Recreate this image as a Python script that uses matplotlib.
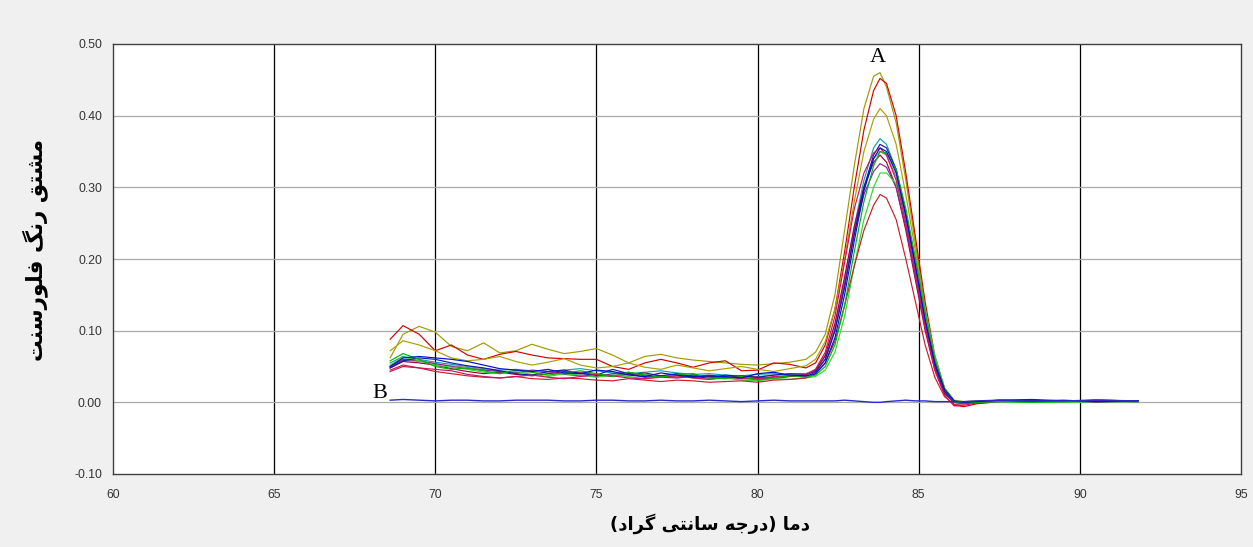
import matplotlib
matplotlib.use("Agg")
import matplotlib.pyplot as plt

# ---------------- data ----------------
temperature = [68.6, 69.0, 69.5, 70.0, 70.5, 71.0, 71.5, 72.0, 72.5, 73.0, 73.5, 74.0, 74.5,
               75.0, 75.5, 76.0, 76.5, 77.0, 77.5, 78.0, 78.5, 79.0, 79.5, 80.0, 80.5, 81.0, 81.5,
               81.8, 82.1, 82.4, 82.7, 83.0, 83.3, 83.6, 83.8, 84.0, 84.3, 84.6, 84.9, 85.2, 85.5,
               85.8, 86.1, 86.4, 86.8, 87.5, 88.5, 89.5, 90.5, 91.8]

olive_high = [0.062, 0.095, 0.106, 0.098, 0.078, 0.072, 0.083, 0.069, 0.072, 0.081, 0.074, 0.068, 0.071,
              0.075, 0.066, 0.055, 0.064, 0.067, 0.062, 0.059, 0.057, 0.055, 0.053, 0.052, 0.054, 0.056, 0.060,
              0.070, 0.095, 0.150, 0.240, 0.330, 0.410, 0.455, 0.460, 0.440, 0.390, 0.310, 0.220, 0.130, 0.060,
              0.020, 0.003, 0.001, 0.002, 0.002, 0.003, 0.001, 0.002, 0.002]
red_high = [0.088, 0.107, 0.095, 0.072, 0.080, 0.066, 0.060, 0.067, 0.071, 0.066, 0.062, 0.061, 0.060,
            0.060, 0.050, 0.046, 0.055, 0.060, 0.055, 0.049, 0.055, 0.058, 0.044, 0.045, 0.055, 0.053, 0.048,
            0.055, 0.080, 0.130, 0.210, 0.300, 0.380, 0.435, 0.452, 0.445, 0.400, 0.320, 0.230, 0.140, 0.065,
            0.020, -0.004, -0.006, -0.002, 0.001, 0.002, 0.001, 0.003, 0.002]
olive_mid = [0.072, 0.086, 0.080, 0.072, 0.062, 0.058, 0.060, 0.064, 0.057, 0.052, 0.056, 0.061, 0.052,
             0.048, 0.050, 0.055, 0.049, 0.046, 0.052, 0.048, 0.044, 0.047, 0.050, 0.046, 0.043, 0.047, 0.051,
             0.060, 0.085, 0.130, 0.200, 0.280, 0.350, 0.395, 0.410, 0.400, 0.360, 0.290, 0.210, 0.125, 0.060,
             0.020, 0.002, 0.000, 0.001, 0.002, 0.001, 0.002, 0.001, 0.002]
teal = [0.055, 0.064, 0.060, 0.056, 0.053, 0.050, 0.047, 0.045, 0.046, 0.044, 0.043, 0.045, 0.047,
        0.044, 0.041, 0.040, 0.042, 0.044, 0.041, 0.039, 0.040, 0.038, 0.037, 0.039, 0.040, 0.038, 0.040,
        0.045, 0.065, 0.105, 0.170, 0.245, 0.310, 0.355, 0.368, 0.360, 0.325, 0.260, 0.185, 0.110, 0.050,
        0.015, 0.001, 0.000, 0.001, 0.002, 0.002, 0.001, 0.002, 0.001]
blue = [0.050, 0.062, 0.064, 0.062, 0.060, 0.057, 0.052, 0.047, 0.045, 0.043, 0.046, 0.041, 0.040,
        0.045, 0.043, 0.038, 0.036, 0.041, 0.038, 0.035, 0.037, 0.036, 0.034, 0.040, 0.042, 0.038, 0.037,
        0.040, 0.055, 0.090, 0.150, 0.225, 0.295, 0.340, 0.355, 0.350, 0.320, 0.260, 0.190, 0.115, 0.055,
        0.018, 0.002, 0.000, 0.001, 0.003, 0.002, 0.003, 0.001, 0.002]
green = [0.058, 0.068, 0.060, 0.050, 0.046, 0.048, 0.044, 0.040, 0.045, 0.042, 0.038, 0.041, 0.044,
         0.040, 0.036, 0.042, 0.038, 0.035, 0.039, 0.040, 0.034, 0.033, 0.036, 0.031, 0.034, 0.037, 0.035,
         0.038, 0.050, 0.080, 0.135, 0.210, 0.280, 0.330, 0.350, 0.348, 0.325, 0.270, 0.200, 0.125, 0.060,
         0.018, 0.001, -0.001, 0.000, 0.001, 0.000, 0.001, 0.001, 0.001]
maroon = [0.048, 0.057, 0.055, 0.052, 0.047, 0.043, 0.040, 0.042, 0.039, 0.037, 0.040, 0.043, 0.041,
          0.038, 0.036, 0.039, 0.041, 0.037, 0.035, 0.038, 0.036, 0.034, 0.037, 0.035, 0.033, 0.036, 0.038,
          0.045, 0.065, 0.110, 0.175, 0.245, 0.300, 0.335, 0.345, 0.335, 0.300, 0.240, 0.170, 0.100, 0.045,
          0.012, 0.000, -0.002, 0.000, 0.002, 0.003, 0.002, 0.002, 0.001]
purple = [0.050, 0.060, 0.058, 0.054, 0.050, 0.047, 0.045, 0.043, 0.041, 0.045, 0.043, 0.039, 0.037,
          0.036, 0.040, 0.042, 0.037, 0.035, 0.034, 0.036, 0.038, 0.035, 0.033, 0.032, 0.035, 0.037, 0.036,
          0.042, 0.060, 0.100, 0.165, 0.235, 0.290, 0.322, 0.333, 0.328, 0.300, 0.245, 0.175, 0.105, 0.050,
          0.014, 0.000, -0.001, 0.001, 0.001, 0.002, 0.002, 0.000, 0.002]
green_light = [0.052, 0.063, 0.058, 0.052, 0.049, 0.046, 0.042, 0.040, 0.043, 0.039, 0.036, 0.040, 0.038,
               0.035, 0.038, 0.036, 0.033, 0.036, 0.038, 0.034, 0.032, 0.034, 0.031, 0.030, 0.033, 0.032, 0.034,
               0.036, 0.045, 0.070, 0.120, 0.190, 0.255, 0.300, 0.320, 0.320, 0.305, 0.260, 0.200, 0.130, 0.065,
               0.020, 0.002, 0.000, 0.000, 0.001, 0.000, 0.000, 0.001, 0.001]
red_low = [0.045, 0.052, 0.048, 0.043, 0.040, 0.037, 0.035, 0.034, 0.036, 0.033, 0.032, 0.034, 0.033,
           0.031, 0.030, 0.033, 0.031, 0.029, 0.031, 0.030, 0.028, 0.029, 0.030, 0.028, 0.031, 0.032, 0.034,
           0.040, 0.055, 0.085, 0.135, 0.190, 0.240, 0.275, 0.290, 0.285, 0.255, 0.200, 0.140, 0.080, 0.035,
           0.008, -0.003, -0.002, 0.000, 0.002, 0.001, 0.002, 0.001, 0.002]
navy = [0.048, 0.058, 0.062, 0.060, 0.055, 0.051, 0.048, 0.044, 0.040, 0.038, 0.043, 0.045, 0.040,
        0.038, 0.046, 0.040, 0.035, 0.037, 0.040, 0.036, 0.034, 0.038, 0.036, 0.035, 0.038, 0.040, 0.039,
        0.043, 0.060, 0.100, 0.160, 0.235, 0.300, 0.345, 0.360, 0.355, 0.325, 0.265, 0.190, 0.115, 0.052,
        0.015, 0.001, 0.000, 0.001, 0.003, 0.004, 0.002, 0.003, 0.002]
gray = [0.050, 0.059, 0.057, 0.054, 0.051, 0.049, 0.046, 0.043, 0.041, 0.043, 0.041, 0.040, 0.042,
        0.039, 0.038, 0.040, 0.039, 0.037, 0.038, 0.037, 0.036, 0.037, 0.035, 0.036, 0.038, 0.039, 0.040,
        0.046, 0.066, 0.105, 0.165, 0.240, 0.300, 0.340, 0.350, 0.345, 0.315, 0.255, 0.185, 0.110, 0.050,
        0.014, 0.000, 0.000, 0.001, 0.002, 0.001, 0.002, 0.002, 0.001]
crimson = [0.043, 0.050, 0.048, 0.046, 0.044, 0.039, 0.036, 0.034, 0.036, 0.038, 0.035, 0.033, 0.036,
           0.039, 0.037, 0.034, 0.033, 0.035, 0.037, 0.034, 0.032, 0.035, 0.034, 0.033, 0.036, 0.037, 0.038,
           0.046, 0.070, 0.120, 0.195, 0.270, 0.320, 0.348, 0.355, 0.345, 0.310, 0.250, 0.180, 0.105, 0.045,
           0.010, -0.005, -0.004, -0.001, 0.002, 0.002, 0.001, 0.003, 0.002]
blank_b = [0.003, 0.004, 0.003, 0.002, 0.003, 0.003, 0.002, 0.002, 0.003, 0.003, 0.003, 0.002, 0.002,
           0.003, 0.003, 0.002, 0.002, 0.003, 0.002, 0.002, 0.003, 0.002, 0.001, 0.002, 0.003, 0.002, 0.002,
           0.002, 0.002, 0.002, 0.003, 0.002, 0.001, 0.000, 0.000, 0.001, 0.002, 0.003, 0.002, 0.002, 0.001,
           0.001, 0.001, 0.001, 0.002, 0.003, 0.002, 0.002, 0.003, 0.002]

sample_curves = [olive_high, red_high, olive_mid, teal, gray, maroon, purple, green_light,
                 red_low, navy, crimson, green, blue]
sample_colors = ['#a09a00', '#d40000', '#a8a000', '#10a0b0', '#909090', '#a0003a', '#9020a0',
                 '#30d830', '#c81e2a', '#1a1aa0', '#d01060', '#00b400', '#0010d0']

x_ticks = [60, 65, 70, 75, 80, 85, 90, 95]
y_ticks = [-0.10, 0.00, 0.10, 0.20, 0.30, 0.40, 0.50]
x_label = "دما (درجه سانتی گراد)"
y_label = "مشتق رنگ فلورسنت"

# ------------- simple Persian shaping (presentation forms, visual order) -------------
FORMS = {
    '\u0627': ('\uFE8D', '\uFE8E', None, None),
    '\u062F': ('\uFEA9', '\uFEAA', None, None),
    '\u0631': ('\uFEAD', '\uFEAE', None, None),
    '\u0648': ('\uFEED', '\uFEEE', None, None),
    '\u0645': ('\uFEE1', '\uFEE2', '\uFEE3', '\uFEE4'),
    '\u0634': ('\uFEB5', '\uFEB6', '\uFEB7', '\uFEB8'),
    '\u062A': ('\uFE95', '\uFE96', '\uFE97', '\uFE98'),
    '\u0642': ('\uFED5', '\uFED6', '\uFED7', '\uFED8'),
    '\u0646': ('\uFEE5', '\uFEE6', '\uFEE7', '\uFEE8'),
    '\u06AF': ('\uFB92', '\uFB93', '\uFB94', '\uFB95'),
    '\u0641': ('\uFED1', '\uFED2', '\uFED3', '\uFED4'),
    '\u0644': ('\uFEDD', '\uFEDE', '\uFEDF', '\uFEE0'),
    '\u0633': ('\uFEB1', '\uFEB2', '\uFEB3', '\uFEB4'),
    '\u062C': ('\uFE9D', '\uFE9E', '\uFE9F', '\uFEA0'),
    '\u0647': ('\uFEE9', '\uFEEA', '\uFEEB', '\uFEEC'),
    '\u06CC': ('\uFBFC', '\uFBFD', '\uFBFE', '\uFBFF'),
}


def shape(s):
    out = []
    for i, c in enumerate(s):
        if c not in FORMS:
            out.append(c)
            continue
        prev = s[i - 1] if i > 0 else ''
        nxt = s[i + 1] if i + 1 < len(s) else ''
        jp = prev in FORMS and FORMS[prev][2] is not None
        jn = FORMS[c][2] is not None and nxt in FORMS
        iso, fin, ini, med = FORMS[c]
        out.append(med if (jp and jn) else fin if jp else ini if jn else iso)
    vis = ''.join(reversed(out))
    return vis.translate(str.maketrans('()', ')('))


# ---------------- figure ----------------
fig = plt.figure(figsize=(12.53, 5.47), dpi=100, facecolor='#f0f0f0')
ax = fig.add_axes([113 / 1253, 1 - 474 / 547, (1241 - 113) / 1253, (474 - 44) / 547])
ax.set_facecolor('white')

for x in x_ticks[1:-1]:
    ax.axvline(x, color='black', lw=0.9, zorder=1)
for y in y_ticks[1:-1]:
    ax.axhline(y, color='#a8a8a8', lw=0.9, zorder=1)

for vals, col in zip(sample_curves, sample_colors):
    ax.plot(temperature, vals, color=col, lw=0.85, zorder=3)
ax.plot(temperature, blank_b, color='#2a2ad0', lw=1.0, zorder=4)

ax.set_xlim(60, 95)
ax.set_ylim(-0.10, 0.50)
ax.set_xticks(x_ticks)
ax.set_yticks(y_ticks)
ax.set_xticklabels([str(v) for v in x_ticks])
ax.set_yticklabels([f"{v:.2f}" for v in y_ticks])
ax.tick_params(length=0, labelsize=8.8, labelcolor='#333333')
ax.tick_params(axis='x', pad=11)
ax.tick_params(axis='y', pad=8)
for lab in ax.get_xticklabels() + ax.get_yticklabels():
    lab.set_family(['Liberation Sans', 'DejaVu Sans'])
for sp in ax.spines.values():
    sp.set_color('#404040')
    sp.set_linewidth(1.0)

ax.text(83.74, 0.481, 'A', family=['Liberation Serif', 'DejaVu Serif'], fontsize=16,
        ha='center', va='center', color='black', zorder=5)
ax.text(68.28, 0.0125, 'B', family=['Liberation Serif', 'DejaVu Serif'], fontsize=16,
        ha='center', va='center', color='black', zorder=5)

fig.text(710 / 1253, 1 - 524 / 547, shape(x_label), family=['DejaVu Sans'], fontweight='bold',
         fontsize=13, ha='center', va='center', color='black')
fig.text(35 / 1253, 1 - 250 / 547, shape(y_label), family=['DejaVu Sans'], fontweight='bold',
         fontsize=15.5, ha='center', va='center', rotation=90, color='black')

fig.savefig('out.png', dpi=100, facecolor=fig.get_facecolor())
